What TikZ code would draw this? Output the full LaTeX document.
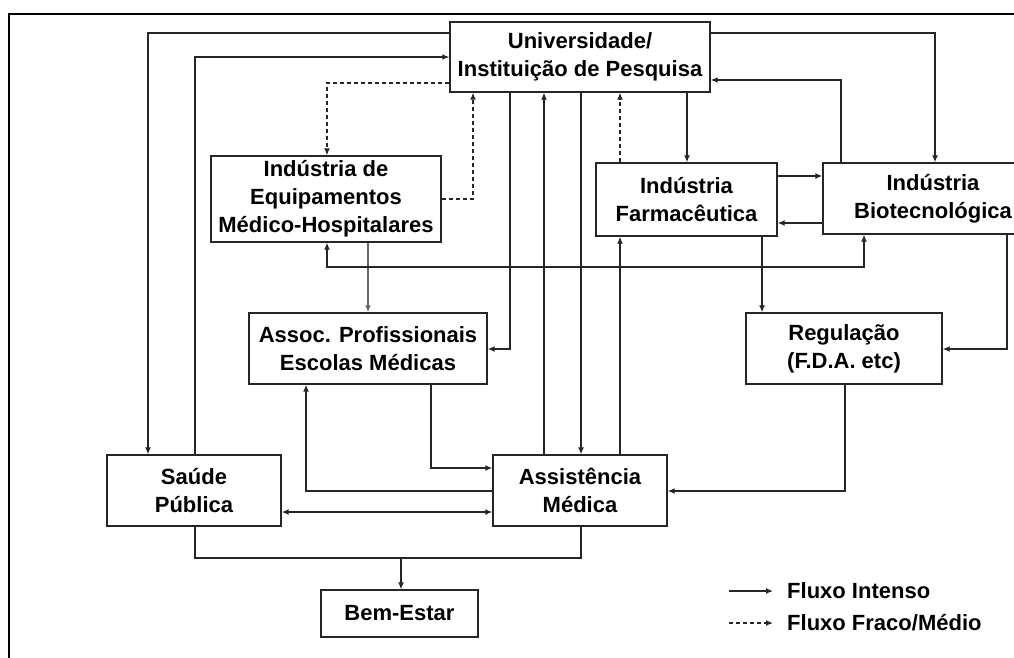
\documentclass[tikz,border=0pt]{standalone}
\usepackage{fontspec}
\setmainfont{Liberation Sans}
\usetikzlibrary{arrows.meta}
\begin{document}
\begin{tikzpicture}[x=1pt,y=-1pt,
  box/.style={draw=black!85, line width=1.4pt, inner sep=0pt, align=center,
    font=\fontsize{22}{28}\selectfont\bfseries},
  conn/.style={draw=black!85, line width=1.3pt},
  arr/.style={conn, -{Latex[length=7pt,width=6pt]}},
  darr/.style={arr, dash pattern=on 4pt off 3pt},
  both/.style={conn, {Latex[length=7pt,width=6pt]}-{Latex[length=7pt,width=6pt]}},
  legtext/.style={anchor=west, inner sep=0pt, font=\fontsize{22}{28}\selectfont\bfseries}]
\useasboundingbox (0,0) rectangle (1014,657);
\clip (0,0) rectangle (1014,657);
\fill[white] (0,0) rectangle (1014,657);
% frame
\draw[line width=2pt] (9,660) -- (9,14.3) -- (1020,14.3);
% nodes
\node[box, minimum width=260pt, minimum height=70pt] (univ) at (580,57) {Universidade/\\Instituição de Pesquisa};
\node[box, minimum width=230pt, minimum height=86pt] (equip) at (326,199) {Indústria de\\Equipamentos\\Médico-Hospitalares};
\node[box, minimum width=181pt, minimum height=73pt] (farm) at (686.5,199.5) {Indústria\\Farmacêutica};
\node[box, minimum width=220pt, minimum height=71pt] (bio) at (933,198.5) {Indústria\\Biotecnológica};
\node[box, minimum width=238pt, minimum height=71pt] (assoc) at (368,348.5) {Assoc. Profissionais\\Escolas Médicas};
\node[box, minimum width=196pt, minimum height=71pt] (reg) at (844,348.5) {Regulação\\(F.D.A. etc)};
\node[box, minimum width=174pt, minimum height=71pt] (sp) at (194,490.5) {Saúde\\Pública};
\node[box, minimum width=174pt, minimum height=71pt] (am) at (580,490.5) {Assistência\\Médica};
\node[box, minimum width=157pt, minimum height=47pt] (bem) at (399.5,613.5) {Bem-Estar};
% connectors
\draw[arr] (univ.west |- 0,33) -- (148,33) -- (sp.north -| 148,0);
\draw[arr] (sp.north -| 195,0) -- (195,57) -- (univ.west |- 0,57);
\draw[darr] (univ.west |- 0,83) -- (327,83) -- (equip.north -| 327,0);
\draw[darr] (equip.east |- 0,199) -- (473,199) -- (univ.south -| 473,0);
\draw[arr, draw=black!60, line width=1.6pt] (equip.south -| 368,0) -- (assoc.north -| 368,0);
\draw[both] (equip.south -| 327,0) -- (327,267) -- (864,267) -- (bio.south -| 864,0);
\draw[arr] (univ.south -| 510,0) -- (510,349) -- (assoc.east |- 0,349);
\draw[arr] (am.north -| 544,0) -- (univ.south -| 544,0);
\draw[arr] (univ.south -| 581,0) -- (am.north -| 581,0);
\draw[darr] (farm.north -| 620,0) -- (univ.south -| 620,0);
\draw[arr] (univ.south -| 687,0) -- (farm.north -| 687,0);
\draw[arr] (univ.east |- 0,33) -- (935,33) -- (bio.north -| 935,0);
\draw[arr] (bio.north -| 841,0) -- (841,80) -- (univ.east |- 0,80);
\draw[arr] (farm.east |- 0,176) -- (bio.west |- 0,176);
\draw[arr] (bio.west |- 0,223) -- (farm.east |- 0,223);
\draw[arr] (farm.south -| 762,0) -- (reg.north -| 762,0);
\draw[arr] (am.north -| 620,0) -- (farm.south -| 620,0);
\draw[arr] (bio.south -| 1007,0) -- (1007,349) -- (reg.east |- 0,349);
\draw[arr] (reg.south -| 845,0) -- (845,491) -- (am.east |- 0,491);
\draw[arr] (assoc.south -| 431,0) -- (431,468) -- (am.west |- 0,468);
\draw[arr] (am.west |- 0,491) -- (306,491) -- (assoc.south -| 306,0);
\draw[both] (sp.east |- 0,512) -- (am.west |- 0,512);
\coordinate (join) at (401,558);
\draw[conn] (sp.south -| 195,0) -- (195,558) -- (581,558) -- (am.south -| 581,0);
\draw[arr] (join) -- (bem.north -| join);
% legend
\coordinate (l1a) at (729,591);
\coordinate (l1b) at (773,591);
\coordinate (l2a) at (729,623);
\coordinate (l2b) at (773,623);
\draw[arr] (l1a) -- (l1b);
\draw[darr] (l2a) -- (l2b);
\node[legtext] (t1) at (787,591) {Fluxo Intenso};
\node[legtext] (t2) at (787,623) {Fluxo Fraco/Médio};
\end{tikzpicture}
\end{document}
